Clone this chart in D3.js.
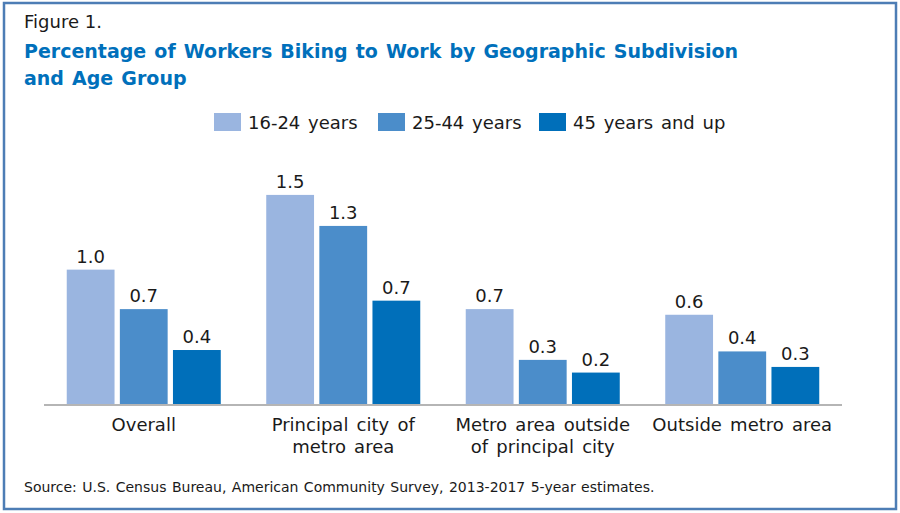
<!DOCTYPE html>
<html>
<head>
<meta charset="utf-8">
<script src="https://cdn.jsdelivr.net/npm/d3@7"></script>
<style>
  body { margin: 0; background: #fff; }
  text { font-family: "DejaVu Sans", "Open Sans", sans-serif; fill: #1a1a1a; }
</style>
</head>
<body>
<svg id="chart" width="900" height="513"></svg>
<script>
var categories = [
  ["Overall"],
  ["Principal city of", "metro area"],
  ["Metro area outside", "of principal city"],
  ["Outside metro area"]
];
var groups = ["16-24 years", "25-44 years", "45 years and up"];
var colors = ["#9ab5e0", "#4b8dca", "#006fba"];

// percentages per category, one value per age group
var young  = [0.96, 1.49, 0.68, 0.64];
var middle = [0.68, 1.27, 0.32, 0.38];
var older  = [0.39, 0.74, 0.23, 0.27];
var series = [young, middle, older];

var svg = d3.select("#chart");

svg.append("rect")
    .attr("x", 4).attr("y", 3)
    .attr("width", 892).attr("height", 506)
    .attr("fill", "none")
    .attr("stroke", "#4d7db5")
    .attr("stroke-width", 2.5);

svg.append("text")
    .attr("x", 24).attr("y", 28)
    .style("font-size", "18px")
    .text("Figure 1.");

var title = svg.append("text")
    .attr("x", 24).attr("y", 58)
    .style("font-size", "19px")
    .style("font-weight", "bold")
    .style("word-spacing", "1.5px")
    .style("fill", "#0070bb");
title.append("tspan").attr("x", 24).text("Percentage of Workers Biking to Work by Geographic Subdivision");
title.append("tspan").attr("x", 24).attr("dy", 27).text("and Age Group");

// legend
var legendX = [214, 378, 539];
var legend = svg.append("g").selectAll("g")
    .data(groups)
  .enter().append("g")
    .attr("transform", function(d, i) { return "translate(" + legendX[i] + ",113)"; });
legend.append("rect")
    .attr("width", 27).attr("height", 18)
    .attr("fill", function(d, i) { return colors[i]; });
legend.append("text")
    .attr("x", 34).attr("y", 16)
    .style("font-size", "18px")
    .style("word-spacing", "2px")
    .text(function(d) { return d; });

var baseline = 405;
var x0 = d3.scaleBand()
    .domain(d3.range(categories.length))
    .range([44, 842])
    .paddingInner(0.228)
    .paddingOuter(0.114);
var x1 = d3.scaleBand()
    .domain(d3.range(groups.length))
    .range([0, x0.bandwidth()])
    .paddingInner(0.1);
var y = d3.scaleLinear()
    .domain([0, 1])
    .range([baseline, baseline - 141]);

var cat = svg.append("g").selectAll("g")
    .data(categories)
  .enter().append("g")
    .attr("transform", function(d, i) { return "translate(" + x0(i) + ",0)"; });

var bars = cat.selectAll("g")
    .data(function(d, i) { return series.map(function(s, j) { return {g: j, v: s[i]}; }); })
  .enter().append("g");

bars.append("rect")
    .attr("x", function(d) { return x1(d.g); })
    .attr("y", function(d) { return y(d.v); })
    .attr("width", x1.bandwidth())
    .attr("height", function(d) { return baseline - y(d.v); })
    .attr("fill", function(d) { return colors[d.g]; });

bars.append("text")
    .attr("x", function(d) { return x1(d.g) + x1.bandwidth() / 2; })
    .attr("y", function(d) { return y(d.v) - 7; })
    .attr("text-anchor", "middle")
    .style("font-size", "18px")
    .text(function(d) { return d.v.toFixed(1); });

svg.append("line")
    .attr("x1", 44).attr("x2", 842)
    .attr("y1", baseline).attr("y2", baseline)
    .attr("stroke", "#b5b5b5")
    .attr("stroke-width", 2);

var labels = cat.append("text")
    .attr("text-anchor", "middle")
    .attr("y", 431)
    .style("font-size", "18px")
    .style("word-spacing", "2.5px");
labels.selectAll("tspan")
    .data(function(d) { return d; })
  .enter().append("tspan")
    .attr("x", x0.bandwidth() / 2)
    .attr("dy", function(d, i) { return i ? 22 : 0; })
    .text(function(d) { return d; });

svg.append("text")
    .attr("x", 24).attr("y", 492)
    .style("font-size", "14px")
    .style("word-spacing", "1px")
    .text("Source: U.S. Census Bureau, American Community Survey, 2013-2017 5-year estimates.");
</script>
</body>
</html>
